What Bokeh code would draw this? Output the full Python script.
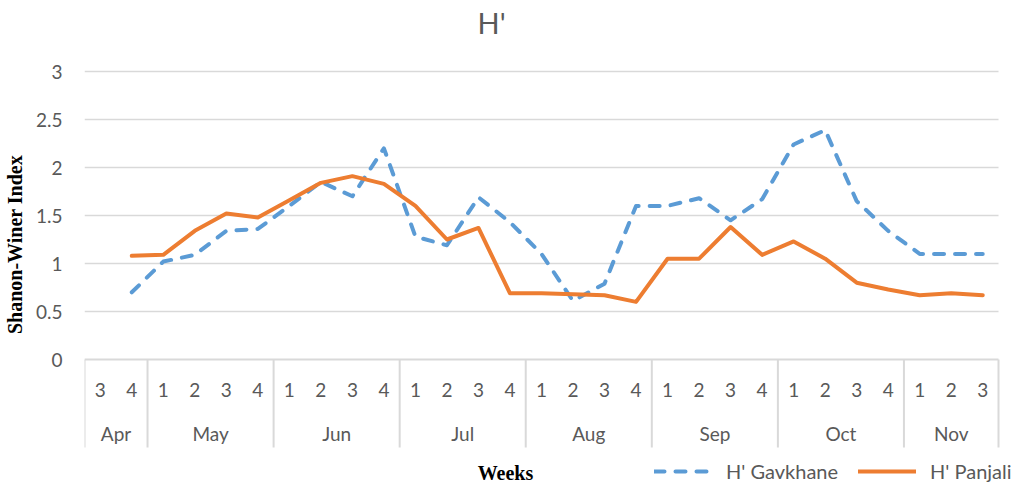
from bokeh.plotting import figure
from bokeh.models import (FixedTicker, Range1d, Legend, LegendItem, Label,
                          LinearAxis)
from bokeh.embed import file_html
from bokeh.resources import INLINE

nan = float("nan")

# ---------------- data ----------------
months = ["Apr", "May", "Jun", "Jul", "Aug", "Sep", "Oct", "Nov"]
month_weeks = [["3", "4"],
               ["1", "2", "3", "4"],
               ["1", "2", "3", "4"],
               ["1", "2", "3", "4"],
               ["1", "2", "3", "4"],
               ["1", "2", "3", "4"],
               ["1", "2", "3", "4"],
               ["1", "2", "3"]]

gavkhane = [nan, 0.70,
            1.02, 1.09, 1.34, 1.36,
            1.60, 1.85, 1.70, 2.20,
            1.28, 1.19, 1.69, 1.43,
            1.10, 0.61, 0.79, 1.60,
            1.60, 1.68, 1.45, 1.67,
            2.24, 2.39, 1.65, 1.34,
            1.10, 1.10, 1.10]

panjali = [nan, 1.08,
           1.09, 1.34, 1.52, 1.48,
           1.66, 1.84, 1.91, 1.83,
           1.60, 1.25, 1.37, 0.69,
           0.69, 0.68, 0.67, 0.60,
           1.05, 1.05, 1.38, 1.09,
           1.23, 1.05, 0.80, 0.73,
           0.67, 0.69, 0.67]

y_ticks = [0, 0.5, 1, 1.5, 2, 2.5, 3]
y_tick_labels = ["0", "0.5", "1", "1.5", "2", "2.5", "3"]

series_names = ["H' Gavkhane", "H' Panjali"]
title_text = "H'"
y_label = "Shanon-Winer Index"
x_label = "Weeks"

# ---------------- derived positions (category index scale) ----------------
week_labels = [w for ws in month_weeks for w in ws]
n_cats = len(week_labels)
x_pos = [i + 0.5 for i in range(n_cats)]
boundaries = [0]
for ws in month_weeks:
    boundaries.append(boundaries[-1] + len(ws))
month_centers = [(a + b) / 2 for a, b in zip(boundaries[:-1], boundaries[1:])]

# ---------------- style / layout ----------------
GRID = "#d9d9d9"
TXT = "#595959"
SANS = "Lato"
SERIF = "Liberation Serif"

fig_w, fig_h = 1020, 485
left_border = 84
top_border = 3
frame_w = fig_w - left_border
frame_h = fig_h - top_border
px_per_cat = 914.0 / n_cats
px_per_unit = 96.0
zero_px = 359

x_end = frame_w / px_per_cat
y_start = -(fig_h - zero_px) / px_per_unit
y_end = (zero_px - top_border) / px_per_unit
sep_bottom = -88.0 / px_per_unit

p = figure(width=fig_w, height=fig_h,
           x_range=Range1d(0, x_end), y_range=Range1d(y_start, y_end),
           output_backend="svg", toolbar_location=None,
           min_border_left=left_border, min_border_right=0,
           min_border_top=top_border, min_border_bottom=0)
p.outline_line_color = None
p.xgrid.visible = False
p.ygrid.visible = False

# y axis
p.yaxis.ticker = FixedTicker(ticks=y_ticks)
p.yaxis.major_label_overrides = {t: s for t, s in zip(y_ticks, y_tick_labels)}
p.yaxis.axis_line_color = None
p.yaxis.major_tick_line_color = None
p.yaxis.minor_tick_line_color = None
p.yaxis.major_tick_out = 0
p.yaxis.major_tick_in = 0
p.yaxis.minor_tick_out = 0
p.yaxis.major_label_standoff = 22
p.yaxis.major_label_text_font = SANS
p.yaxis.major_label_text_font_size = "19px"
p.yaxis.major_label_text_color = TXT
p.yaxis.axis_label = y_label
p.yaxis.axis_label_text_font = SERIF
p.yaxis.axis_label_text_font_style = "bold"
p.yaxis.axis_label_text_font_size = "20px"
p.yaxis.axis_label_text_color = "black"
p.yaxis.axis_label_standoff = 7

# horizontal gridlines over the category span
grid_vals = [t for t in y_ticks if t > 0]
p.segment(x0=[0] * len(grid_vals), y0=grid_vals,
          x1=[n_cats] * len(grid_vals), y1=grid_vals,
          line_color=GRID, line_width=1.3)

# week axis at y = 0
wa = p.xaxis[0]
wa.ticker = FixedTicker(ticks=x_pos)
wa.major_label_overrides = {x: w for x, w in zip(x_pos, week_labels)}
wa.fixed_location = 0
wa.bounds = (0, n_cats)
wa.axis_line_color = GRID
wa.axis_line_width = 2
wa.major_tick_line_color = None
wa.minor_tick_line_color = None
wa.major_label_standoff = 17
wa.major_label_text_font = SANS
wa.major_label_text_font_size = "19px"
wa.major_label_text_color = TXT

# month axis at y = 0 (second row)
ma = LinearAxis(ticker=FixedTicker(ticks=month_centers),
                major_label_overrides={x: m for x, m in zip(month_centers, months)},
                fixed_location=0, bounds=(0, n_cats),
                axis_line_color=None, major_tick_line_color=None,
                minor_tick_line_color=None, major_label_standoff=56,
                major_label_text_font=SANS, major_label_text_font_size="19px",
                major_label_text_color=TXT)
p.add_layout(ma, "below")

# month separators
p.segment(x0=boundaries, y0=[0] * len(boundaries),
          x1=boundaries, y1=[sep_bottom] * len(boundaries),
          line_color=GRID, line_width=2)

# series
r1 = p.line(x=x_pos, y=gavkhane, line_color="#5B9BD5", line_width=4,
            line_dash="10 11", line_cap="round", line_join="round")
r2 = p.line(x=x_pos, y=panjali, line_color="#ED7D31", line_width=4,
            line_cap="round", line_join="round")

legend = Legend(items=[LegendItem(label=series_names[0], renderers=[r1]),
                       LegendItem(label=series_names[1], renderers=[r2])],
                orientation="horizontal", location=(570, 2),
                border_line_color=None, background_fill_alpha=0,
                padding=0, margin=0, spacing=20,
                glyph_width=58, glyph_height=16, label_height=16,
                label_standoff=14, label_text_font=SANS,
                label_text_font_size="20px", label_text_color=TXT)
p.add_layout(legend)

# title
p.add_layout(Label(x=393, y=frame_h - 19, x_units="screen", y_units="screen",
                   text=title_text, text_align="left", text_baseline="middle",
                   text_font=SANS, text_font_size="29px", text_color=TXT))

# x label
p.add_layout(Label(x=421, y=13, x_units="screen", y_units="screen",
                   text=x_label, text_align="center", text_baseline="middle",
                   text_font=SERIF, text_font_style="bold",
                   text_font_size="20px", text_color="black"))

open("out.html", "w").write(file_html(p, INLINE))
